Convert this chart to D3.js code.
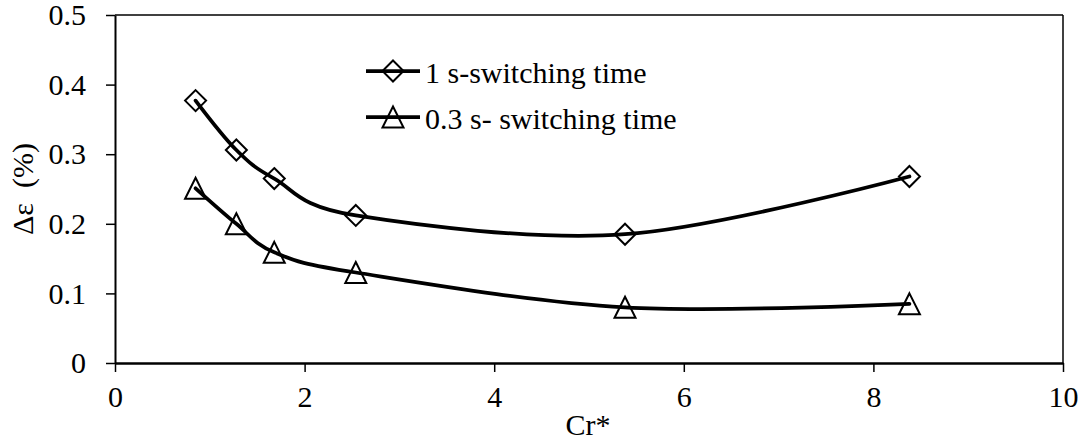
<!DOCTYPE html>
<html>
<head>
<meta charset="utf-8">
<script src="https://cdn.jsdelivr.net/npm/d3@7"></script>
<style>
  html, body { margin: 0; padding: 0; background: #fff; }
  svg { display: block; }
</style>
</head>
<body>
<svg id="chart" width="1085" height="440"></svg>
<script>
// Cr* values shared by both series
const crValues = [0.85, 1.28, 1.68, 2.54, 5.38, 8.38];
// Δε (%) for 1 s switching time
const switch1s = [0.377, 0.306, 0.265, 0.212, 0.185, 0.268];
// Δε (%) for 0.3 s switching time
const switch03s = [0.251, 0.200, 0.159, 0.130, 0.080, 0.085];
const seriesNames = ["1 s-switching time", "0.3 s- switching time"];
const xTicks = [0, 2, 4, 6, 8, 10];
const yTicks = [0, 0.1, 0.2, 0.3, 0.4, 0.5];

const FONT = "'Liberation Serif', 'Times New Roman', serif";
const svg = d3.select("#chart");
const plot = { left: 115, right: 1063, top: 15, bottom: 363 };

const x = d3.scaleLinear().domain([0, 10]).range([plot.left, plot.right]);
const y = d3.scaleLinear().domain([0, 0.5]).range([plot.bottom, plot.top]);

// plot frame (top and right borders)
svg.append("line").attr("x1", plot.left).attr("x2", plot.right).attr("y1", plot.top).attr("y2", plot.top)
  .attr("stroke", "#000").attr("stroke-width", 1.5);
svg.append("line").attr("x1", plot.right).attr("x2", plot.right).attr("y1", plot.top).attr("y2", plot.bottom)
  .attr("stroke", "#000").attr("stroke-width", 1.5);

// x axis
const xAxis = svg.append("g").attr("transform", `translate(0,${plot.bottom})`)
  .call(d3.axisBottom(x).tickValues(xTicks).tickFormat(d3.format("d")).tickSizeInner(9).tickSizeOuter(0).tickPadding(14));
xAxis.select(".domain").attr("stroke-width", 2.5);
xAxis.selectAll(".tick line").attr("stroke-width", 1.5);
xAxis.selectAll("text").style("font-family", FONT).style("font-size", "30px").attr("fill", "#000");

// y axis
const yAxis = svg.append("g").attr("transform", `translate(${plot.left},0)`)
  .call(d3.axisLeft(y).tickValues(yTicks).tickFormat(d => d === 0 ? "0" : d3.format(".1f")(d)).tickSizeInner(9).tickSizeOuter(0).tickPadding(20));
yAxis.select(".domain").attr("stroke-width", 2);
yAxis.selectAll(".tick line").attr("stroke-width", 1.5);
yAxis.selectAll("text").style("font-family", FONT).style("font-size", "30px").attr("fill", "#000");

// axis titles
svg.append("text").attr("x", 588).attr("y", 435).attr("text-anchor", "middle")
  .style("font-family", FONT).style("font-size", "30px").text("Cr*");
svg.append("text").attr("transform", "translate(33,189) rotate(-90)").attr("text-anchor", "middle")
  .style("font-family", FONT).style("font-size", "30px").style("white-space", "pre").text("Δε  (%)");

// marker shapes
const diamond = r => `M0,${-r}L${r},0L0,${r}L${-r},0Z`;
const triangle = r => `M0,${-r}L${r},${r}L${-r},${r}Z`;

const series = [
  { name: seriesNames[0], values: switch1s, shape: diamond(10.5) },
  { name: seriesNames[1], values: switch03s, shape: triangle(10.5) }
];

const line = d3.line()
  .x(d => x(d[0])).y(d => y(d[1]))
  .curve(d3.curveCardinal.tension(0));

series.forEach(s => {
  const pts = crValues.map((c, i) => [c, s.values[i]]);
  svg.append("path").datum(pts).attr("d", line)
    .attr("fill", "none").attr("stroke", "#000").attr("stroke-width", 3.75).attr("stroke-linecap", "round");
  svg.append("g").selectAll("path").data(pts).join("path")
    .attr("transform", d => `translate(${x(d[0])},${y(d[1])})`)
    .attr("d", s.shape).attr("fill", "none").attr("stroke", "#000").attr("stroke-width", 2);
});

// legend
const legend = svg.append("g");
series.forEach((s, i) => {
  const ly = 71 + i * 46;
  legend.append("line").attr("x1", 366).attr("x2", 420).attr("y1", ly).attr("y2", ly)
    .attr("stroke", "#000").attr("stroke-width", 3.75);
  legend.append("path").attr("transform", `translate(393,${ly})`).attr("d", s.shape)
    .attr("fill", "none").attr("stroke", "#000").attr("stroke-width", 2);
  legend.append("text").attr("x", 425).attr("y", ly + 12)
    .style("font-family", FONT).style("font-size", "30px").text(s.name);
});
</script>
</body>
</html>
